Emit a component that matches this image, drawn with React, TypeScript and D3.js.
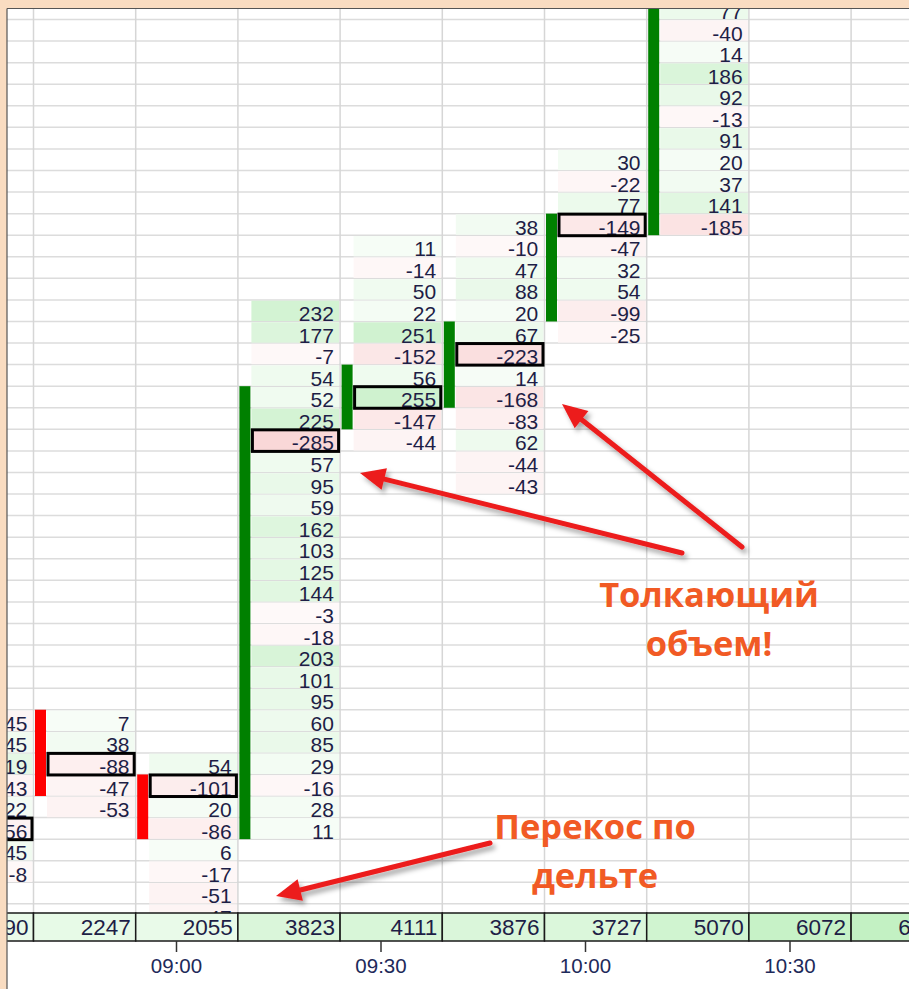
import React from "react";
import * as d3 from "d3";

// ---------- data ----------
const colVolumes = [1990, 2247, 2055, 3823, 4111, 3876, 3727, 5070, 6072, 6558];
const deltaStartRow = [33, 33, 35, 14, 11, 10, 7, 0, 0, 0];
const deltaValues: number[][] = [
  [-45, 45, 119, -43, 22, -56, 45, -8],
  [7, 38, -88, -47, -53],
  [54, -101, 20, -86, 6, -17, -51, -47],
  [232, 177, -7, 54, 52, 225, -285, 57, 95, 59, 162, 103, 125, 144, -3, -18, 203, 101, 95, 60, 85, 29, -16, 28, 11],
  [11, -14, 50, 22, 251, -152, 56, 255, -147, -44],
  [38, -10, 47, 88, 20, 67, -223, 14, -168, -83, 62, -44, -43],
  [30, -22, 77, -149, -47, 32, 54, -99, -25],
  [77, -40, 14, 186, 92, -13, 91, 20, 37, 141, -185],
  [],
  [],
];
const pocRow = [38, 35, 36, 20, 18, 16, 10, null, null, null];
const barTopRow = [null, 33, 36, 18, 17, 15, 10, -5, null, null];
const barBottomRow = [null, 36, 38, 38, 19, 18, 14, 10, null, null];
const barUp = [null, false, false, true, true, true, true, true, null, null];
const timeTicks = ["09:00", "09:30", "10:00", "10:30"];

const annotations = [
  { lines: ["Толкающий", "объем!"], x: 709, y: 607 },
  { lines: ["Перекос по", "дельте"], x: 595, y: 839 },
];
const arrows = [
  { x1: 682, y1: 553, x2: 360, y2: 473 },
  { x1: 742, y1: 547, x2: 562, y2: 404 },
  { x1: 490, y1: 843, x2: 276, y2: 896 },
];

// ---------- layout ----------
const W = 909;
const H = 989;
const plotLeft = 7;
const plotTop = 8.5;
const gridBottom = 913;
const volTop = 913;
const volBottom = 941;

const xCol = d3.scaleLinear().domain([0, 1]).range([-68.7, 33.5]);
const colW = xCol(1) - xCol(0);
const yRow = d3.scaleLinear().domain([0, 1]).range([-2.07, 19.5]);
const rowH = yRow(1) - yRow(0);
const parseT = d3.timeParse("%H:%M");
const xTime = d3
  .scaleTime()
  .domain([parseT("09:00")!, parseT("10:30")!])
  .range([176.5, 790]);

const greenScale = d3.scaleLinear<string>().domain([0, 300]).range(["#f8fdf8", "#c8f0c8"]).clamp(true);
const redScale = d3.scaleLinear<string>().domain([0, 300]).range(["#fef9f9", "#f9d6d6"]).clamp(true);
const volScale = d3.scaleLinear<string>().domain([2000, 6600]).range(["#e9fae9", "#c3f1c3"]).clamp(true);

const FONT = "'Liberation Sans', Arial, sans-serif";
const TXT = "#1e1e46";
const nRows = 44;

function arrowShape(a: { x1: number; y1: number; x2: number; y2: number }) {
  const ang = Math.atan2(a.y2 - a.y1, a.x2 - a.x1);
  const headL = 25;
  const headW = 11;
  const bx = a.x2 - headL * Math.cos(ang);
  const by = a.y2 - headL * Math.sin(ang);
  const px = -Math.sin(ang);
  const py = Math.cos(ang);
  const line = d3.path();
  line.moveTo(a.x1, a.y1);
  line.lineTo(bx + 3 * Math.cos(ang), by + 3 * Math.sin(ang));
  const head = d3.path();
  head.moveTo(a.x2, a.y2);
  head.lineTo(bx + px * headW, by + py * headW);
  head.lineTo(bx - px * headW, by - py * headW);
  head.closePath();
  return { line: line.toString(), head: head.toString() };
}

export default function App() {
  const cells: React.ReactNode[] = [];
  const texts: React.ReactNode[] = [];
  const boxes: React.ReactNode[] = [];
  const bars: React.ReactNode[] = [];

  deltaValues.forEach((vals, i) => {
    const L = xCol(i);
    vals.forEach((v, j) => {
      const r = deltaStartRow[i] + j;
      const top = yRow(r);
      cells.push(
        <rect
          key={`c${i}-${j}`}
          x={L + 13.5}
          y={top + 0.8}
          width={colW - 14.5}
          height={rowH - 1.2}
          fill={v >= 0 ? greenScale(v) : redScale(-v)}
        />
      );
      texts.push(
        <text
          key={`t${i}-${j}`}
          x={L + 96}
          y={top + rowH - 0.5}
          textAnchor="end"
          fontFamily={FONT}
          fontSize={21}
          fill={TXT}
        >
          {v}
        </text>
      );
      if (pocRow[i] === r) {
        boxes.push(
          <rect
            key={`b${i}`}
            x={L + 14.5}
            y={top + 0.5}
            width={colW - 16}
            height={rowH}
            fill="none"
            stroke="#000"
            strokeWidth={3}
          />
        );
      }
    });
    const bt = barTopRow[i];
    const bb = barBottomRow[i];
    if (bt !== null && bb !== null) {
      bars.push(
        <rect
          key={`bar${i}`}
          x={L + 1.5}
          y={yRow(bt)}
          width={11}
          height={yRow(bb + 1) - yRow(bt)}
          fill={barUp[i] ? "#008000" : "#ff0000"}
        />
      );
    }
  });

  const hLines = d3.range(0, nRows).map((r) => (
    <line key={`h${r}`} x1={plotLeft} x2={W} y1={yRow(r)} y2={yRow(r)} stroke="#dcdcdc" strokeWidth={1.5} />
  ));
  const vLines = d3.range(1, colVolumes.length).map((i) => (
    <line key={`v${i}`} x1={xCol(i)} x2={xCol(i)} y1={plotTop} y2={gridBottom} stroke="#d6d6d6" strokeWidth={1.5} />
  ));

  return (
    <svg
      width={W}
      height={H}
      viewBox={`0 0 ${W} ${H}`}
      style={{ position: "absolute", left: 0, top: 0, display: "block" }}
    >
      <defs>
        <clipPath id="plotClip">
          <rect x={plotLeft} y={plotTop} width={W - plotLeft} height={gridBottom - plotTop} />
        </clipPath>
        <clipPath id="fullClip">
          <rect x={plotLeft} y={plotTop} width={W - plotLeft} height={H - plotTop} />
        </clipPath>
        <filter id="shadow" x="-20%" y="-50%" width="140%" height="200%">
          <feDropShadow dx={3} dy={4} stdDeviation={2.5} floodColor="#000" floodOpacity={0.35} />
        </filter>
      </defs>
      <rect x={0} y={0} width={W} height={H} fill="#f9dcc1" />
      <rect x={plotLeft} y={plotTop} width={W - plotLeft} height={H - plotTop} fill="#ffffff" />

      <g clipPath="url(#plotClip)">
        {hLines}
        {cells}
        {texts}
        {vLines}
        {bars}
        {boxes}
      </g>

      <g clipPath="url(#fullClip)">
        {colVolumes.map((v, i) => (
          <g key={`vol${i}`}>
            <rect
              x={xCol(i)}
              y={volTop}
              width={colW}
              height={volBottom - volTop}
              fill={volScale(v)}
              stroke="#1a1a1a"
              strokeWidth={1.5}
            />
            <text
              x={xCol(i) + colW - 5}
              y={volBottom - 6}
              textAnchor="end"
              fontFamily={FONT}
              fontSize={22.5}
              fill={TXT}
            >
              {v}
            </text>
          </g>
        ))}
        {timeTicks.map((t) => {
          const x = xTime(parseT(t)!);
          return (
            <g key={t}>
              <line x1={x} x2={x} y1={volBottom} y2={volBottom + 11} stroke="#333" strokeWidth={1.5} />
              <text x={x} y={973} textAnchor="middle" fontFamily={FONT} fontSize={20.5} fill="#1e2a5a">
                {t}
              </text>
            </g>
          );
        })}
      </g>

      <line x1={plotLeft} x2={W} y1={plotTop} y2={plotTop} stroke="#555" strokeWidth={1.2} />
      <line x1={plotLeft} x2={plotLeft} y1={plotTop} y2={H} stroke="#555" strokeWidth={1.2} />

      <g filter="url(#shadow)">
        {arrows.map((a, i) => {
          const s = arrowShape(a);
          return (
            <g key={`ar${i}`}>
              <path d={s.line} stroke="#ec1c1c" strokeWidth={5} fill="none" strokeLinecap="round" />
              <path d={s.head} fill="#ec1c1c" />
            </g>
          );
        })}
      </g>

      {annotations.map((a, i) => (
        <text
          key={`an${i}`}
          textAnchor="middle"
          fontFamily="'Open Sans', sans-serif"
          fontWeight={700}
          fontSize={34.5}
          fill="#f15a24"
        >
          {a.lines.map((ln, j) => (
            <tspan key={j} x={a.x} y={a.y + j * 49}>
              {ln}
            </tspan>
          ))}
        </text>
      ))}
    </svg>
  );
}
